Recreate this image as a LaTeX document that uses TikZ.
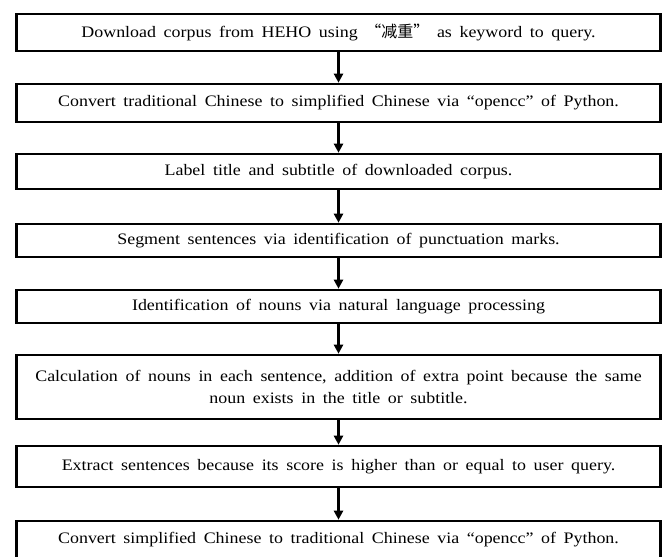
\documentclass[tikz,border=0pt]{standalone}
\usepackage{fontspec}
\setmainfont{Liberation Serif}[FakeStretch=1.12,WordSpace=1.7]
\newfontfamily\cjk{Noto Sans CJK SC}
\usetikzlibrary{arrows.meta}
\begin{document}
\begin{tikzpicture}[x=1pt,y=-1pt,
  stepbox/.style={draw, line width=2.6pt, minimum width=644pt, inner sep=0pt,
    align=center, font=\fontsize{16}{22}\selectfont},
  flow/.style={line width=2.4pt, -{Triangle[width=9pt,length=9pt]}}]
\useasboundingbox (0,0) rectangle (667,557);
\clip (0,0) rectangle (667,557);
\node[stepbox, minimum height=37pt] (s1) at (338.5,32.5)
  {Download corpus from HEHO using {\cjk “减重”} as keyword to query.};
\node[stepbox, minimum height=38pt] (s2) at (338.5,103)
  {Convert traditional Chinese to simplified Chinese via “opencc” of Python.};
\node[stepbox, minimum height=35pt] (s3) at (338.5,171.5)
  {Label title and subtitle of downloaded corpus.};
\node[stepbox, minimum height=33pt] (s4) at (338.5,240.5)
  {Segment sentences via identification of punctuation marks.};
\node[stepbox, minimum height=33pt] (s5) at (338.5,306.5)
  {Identification of nouns via natural language processing};
\node[stepbox, minimum height=64pt] (s6) at (338.5,387)
  {Calculation of nouns in each sentence, addition of extra point because the same\\
   noun exists in the title or subtitle.};
\node[stepbox, minimum height=41pt] (s7) at (338.5,466.5)
  {Extract sentences because its score is higher than or equal to user query.};
\node[stepbox, minimum height=38pt] (s8) at (338.5,540)
  {Convert simplified Chinese to traditional Chinese via “opencc” of Python.};
\draw[flow] (s1) -- (s2);
\draw[flow] (s2) -- (s3);
\draw[flow] (s3) -- (s4);
\draw[flow] (s4) -- (s5);
\draw[flow] (s5) -- (s6);
\draw[flow] (s6) -- (s7);
\draw[flow] (s7) -- (s8);
\end{tikzpicture}
\end{document}
